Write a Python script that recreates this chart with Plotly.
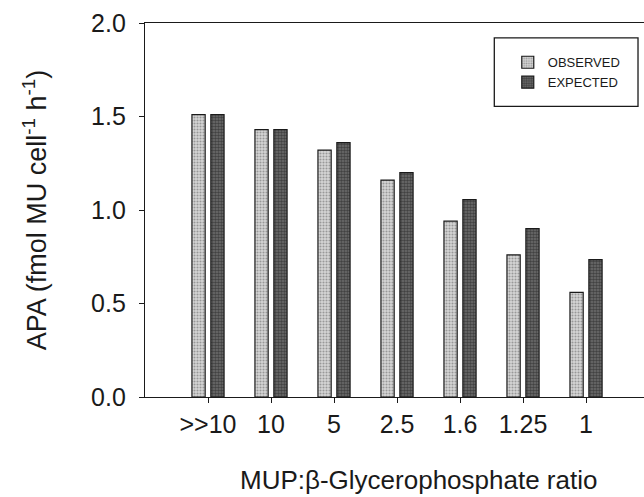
import plotly.graph_objects as go

categories = [">>10", "10", "5", "2.5", "1.6", "1.25", "1"]
observed = [1.51, 1.43, 1.32, 1.16, 0.94, 0.76, 0.56]
expected = [1.51, 1.43, 1.36, 1.20, 1.055, 0.90, 0.735]
y_ticks = [0.0, 0.5, 1.0, 1.5, 2.0]

FONT = "Liberation Sans, Arial, sans-serif"
INK = "#1a1a1a"

fig = go.Figure()
fig.add_trace(go.Bar(
    x=categories, y=observed, name="OBSERVED",
    marker=dict(color="#c8c8c8", line=dict(color=INK, width=1.2),
                pattern=dict(shape=".", size=3, solidity=0.4,
                             fgcolor="#5a5a5a", bgcolor="#d6d6d6")),
))
fig.add_trace(go.Bar(
    x=categories, y=expected, name="EXPECTED",
    marker=dict(color="#444", line=dict(color=INK, width=1.2),
                pattern=dict(shape=".", size=3, solidity=0.55,
                             fgcolor="#151515", bgcolor="#6e6e6e")),
))

fig.update_layout(
    width=644, height=497,
    margin=dict(l=145, r=0, t=23, b=100),
    paper_bgcolor="white", plot_bgcolor="white",
    barmode="group", bargap=0.40, bargroupgap=0.30,
    font=dict(family=FONT, size=25, color=INK),
    showlegend=True,
    legend=dict(x=0.727, y=0.935, xanchor="left", yanchor="top",
                font=dict(size=13, color=INK),
                bgcolor="rgba(0,0,0,0)", borderwidth=0,
                itemwidth=30, tracegroupgap=0),
    shapes=[dict(type="rect", xref="paper", yref="paper",
                 x0=0.70, x1=0.988, y0=0.777, y1=0.96,
                 line=dict(color=INK, width=1.3))],
    annotations=[dict(text="MUP:β-Glycerophosphate ratio", xref="paper", yref="paper",
                      x=0.548, y=-0.222, xanchor="center", yanchor="middle",
                      showarrow=False, font=dict(size=26, color=INK))],
)

fig.update_xaxes(
    type="category", range=[-1, 6.92],
    showline=True, linecolor=INK, linewidth=1.3, mirror=True,
    ticks="outside", ticklen=5, tickcolor=INK,
    showgrid=False, zeroline=False,
)
fig.update_yaxes(
    range=[0, 2.0], tickvals=y_ticks, tickformat=".1f",
    showline=True, linecolor=INK, linewidth=1.3,
    ticks="outside", ticklen=5, tickcolor=INK,
    ticklabelstandoff=8,
    showgrid=False, zeroline=False,
    title=dict(text="APA (fmol MU cell<sup>-1</sup> h<sup>-1</sup>)", standoff=36,
               font=dict(size=27)),
)

fig.write_html("out.html")
